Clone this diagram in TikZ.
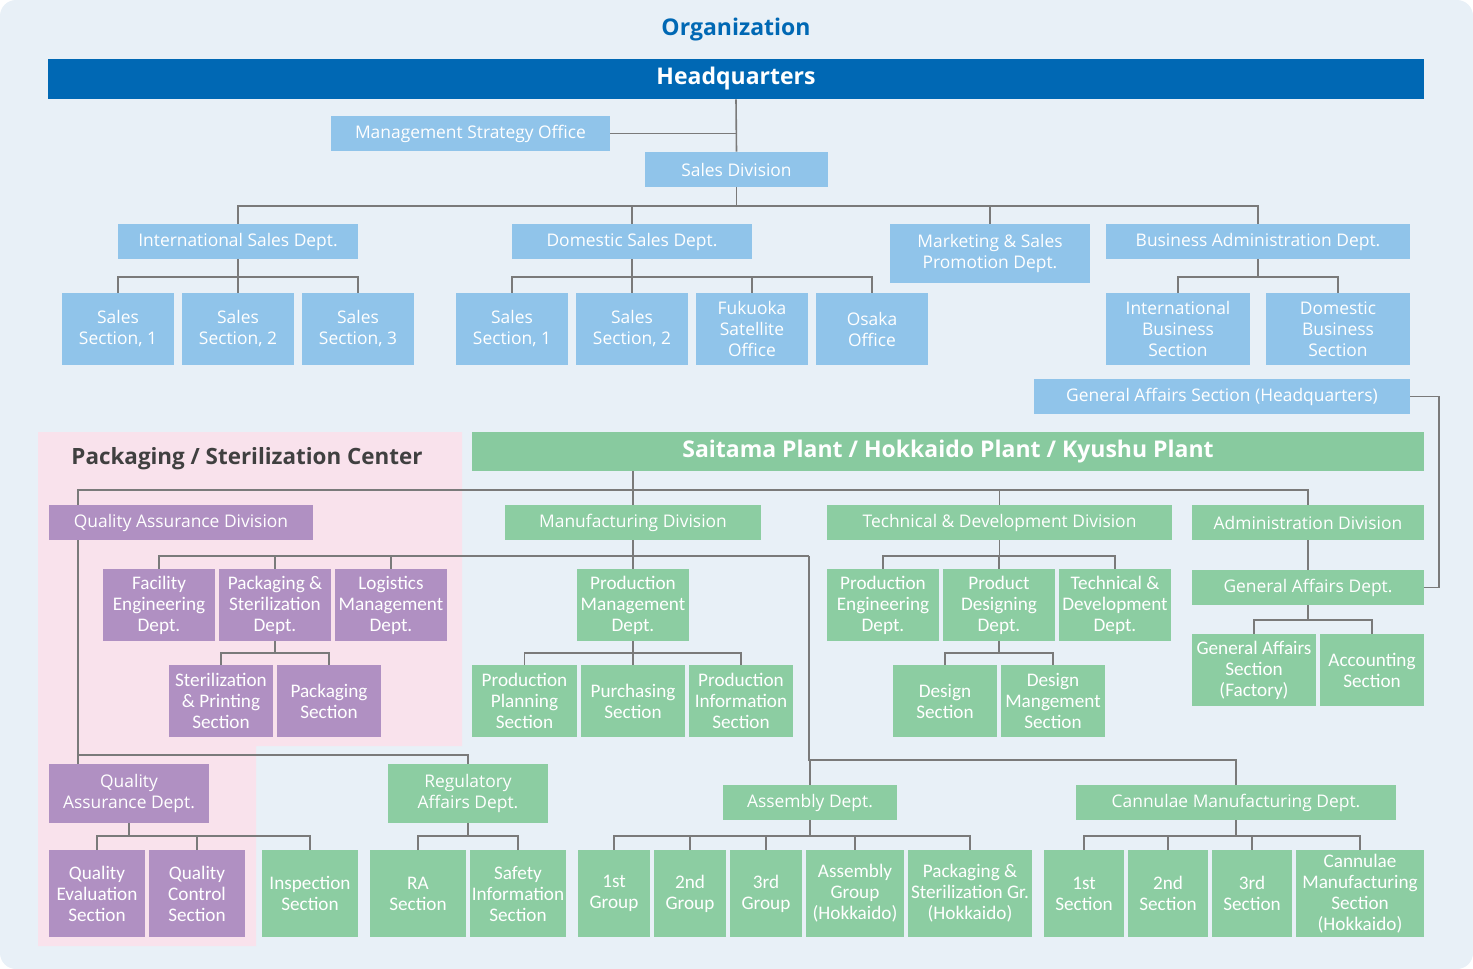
\documentclass[tikz,border=0pt]{standalone}
\usepackage{fontspec}
\setmainfont{Open Sans}
\newfontfamily\condf{Carlito}
\definecolor{bgc}{HTML}{E8F0F7}
\definecolor{hqb}{HTML}{0068B4}
\definecolor{lb}{HTML}{90C4EA}
\definecolor{gr}{HTML}{8CCDA2}
\definecolor{grh}{HTML}{88CA9F}
\definecolor{pu}{HTML}{B090C2}
\definecolor{pk}{HTML}{F9E2EC}
\definecolor{ln}{HTML}{7A7A7A}
\begin{document}
\begin{tikzpicture}[x=0.5pt,y=0.5pt,
  box/.style={inner sep=0pt,align=center,text=white,font=\fontsize{8.7}{10.5}\selectfont},
  cbox/.style={box,font=\condf\fontsize{9.6}{10.5}\selectfont},
  B/.style={box,fill=lb}, G/.style={box,fill=gr}, P/.style={box,fill=pu},
  CB/.style={cbox,fill=lb}, CG/.style={cbox,fill=gr}, CP/.style={cbox,fill=pu},
  every path/.style={},
  lnk/.style={draw=ln,line width=0.8pt}]
\newcommand\bx[7]{\node[#6,minimum width={(#4-#2)*0.5pt},minimum height={(#5-#3)*0.5pt}] (#1) at ({(#2+#4)/2},{-(#3+#5)/2}) {#7};}
\newcommand\tr[3]{\draw[lnk] (#1.south) -- (#1.south |- 0,-#3) -| (#2.north);}
\useasboundingbox (0,0) rectangle (1473,-969);
\fill[bgc,rounded corners=8pt] (0,0) rectangle (1473,-969);
\fill[pk] (38,-432) -- (462,-432) -- (462,-746) -- (256,-746) -- (256,-946) -- (38,-946) -- cycle;
\node[text=hqb,font=\bfseries\fontsize{11.5}{12}\selectfont] (title) at (736,-30) {Organization};
\node[text=black!75,font=\bfseries\fontsize{11.2}{12}\selectfont] (pkt) at (247,-459) {Packaging / Sterilization Center};
% headquarters
\bx{hq}{48}{59}{1424}{99}{box,fill=hqb,font=\bfseries\fontsize{11.5}{12}\selectfont}{Headquarters}
\bx{mso}{331}{116}{610}{151}{B}{Management Strategy Office}
\bx{sd}{645}{152}{828}{187}{B}{Sales Division}
\bx{isd}{118}{224}{358}{259}{B}{International Sales Dept.}
\bx{dsd}{512}{224}{752}{259}{B}{Domestic Sales Dept.}
\bx{msp}{890}{224}{1090}{283}{B}{Marketing \& Sales\\Promotion Dept.}
\bx{bad}{1106}{224}{1410}{259}{B}{Business Administration Dept.}
\bx{is1}{62}{293}{174}{365}{B}{Sales\\Section, 1}
\bx{is2}{182}{293}{294}{365}{B}{Sales\\Section, 2}
\bx{is3}{302}{293}{414}{365}{B}{Sales\\Section, 3}
\bx{ds1}{456}{293}{568}{365}{B}{Sales\\Section, 1}
\bx{ds2}{576}{293}{688}{365}{B}{Sales\\Section, 2}
\bx{fso}{696}{293}{808}{365}{B}{Fukuoka\\Satellite\\Office}
\bx{oso}{816}{293}{928}{365}{B}{Osaka\\Office}
\bx{ibs}{1106}{293}{1250}{365}{B}{International\\Business\\Section}
\bx{dbs}{1266}{293}{1410}{365}{B}{Domestic\\Business\\Section}
\bx{gahq}{1034}{379}{1410}{414}{B}{General Affairs Section (Headquarters)}
\draw[lnk] (hq.south) -- (sd.north);
\draw[lnk] (mso.east) -- (mso.east -| hq.south);
\tr{sd}{isd}{206}\tr{sd}{dsd}{206}\tr{sd}{msp}{206}\tr{sd}{bad}{206}
\tr{isd}{is1}{277}\tr{isd}{is2}{277}\tr{isd}{is3}{277}
\tr{dsd}{ds1}{277}\tr{dsd}{ds2}{277}\tr{dsd}{fso}{277}\tr{dsd}{oso}{277}
\tr{bad}{ibs}{277}\tr{bad}{dbs}{277}
% plants
\bx{sp}{472}{432}{1424}{471}{box,fill=grh,font=\bfseries\fontsize{11.5}{12}\selectfont}{Saitama Plant / Hokkaido Plant / Kyushu Plant}
\bx{qad}{49}{505}{313}{540}{P}{Quality Assurance Division}
\bx{mfg}{505}{505}{761}{540}{G}{Manufacturing Division}
\bx{tdd}{827}{505}{1172}{540}{G}{Technical \& Development Division}
\bx{adm}{1192}{505}{1424}{540}{G}{Administration Division}
\coordinate (qtop) at (78,-505);
\draw[lnk] (sp.south -| mfg.north) -- (mfg.north);
\draw[lnk] (qtop) -- (78,-490) -| (adm.north);
\draw[lnk] (tdd.north) -- (tdd.north |- 0,-490);
% packaging center depts
\bx{fed}{103}{569}{215}{641}{CP}{Facility\\Engineering\\Dept.}
\bx{psd}{219}{569}{331}{641}{CP}{Packaging \&\\Sterilization\\Dept.}
\bx{lmd}{335}{569}{447}{641}{CP}{Logistics\\Management\\Dept.}
\bx{sps}{169}{665}{273}{737}{CP}{Sterilization\\\& Printing\\Section}
\bx{pks}{277}{665}{381}{737}{CP}{Packaging\\Section}
\tr{psd}{sps}{653}\tr{psd}{pks}{653}
% manufacturing
\bx{pmd}{577}{569}{689}{641}{CG}{Production\\Management\\Dept.}
\bx{pps}{472}{665}{577}{737}{CG}{Production\\Planning\\Section}
\bx{pur}{581}{665}{685}{737}{CG}{Purchasing\\Section}
\bx{pis}{689}{665}{793}{737}{CG}{Production\\Information\\Section}
\draw[lnk] (mfg.south) -- (pmd.north);
\coordinate (mright) at (809,-556);
\draw[lnk] (fed.north) -- (fed.north |- 0,-556) -- (mright);
\draw[lnk] (psd.north) -- (psd.north |- 0,-556);
\draw[lnk] (lmd.north) -- (lmd.north |- 0,-556);
\tr{pmd}{pps}{653}\tr{pmd}{pur}{653}\tr{pmd}{pis}{653}
% technical
\bx{ped}{827}{569}{939}{641}{CG}{Production\\Engineering\\Dept.}
\bx{pdd}{943}{569}{1055}{641}{CG}{Product\\Designing\\Dept.}
\bx{tdp}{1059}{569}{1171}{641}{CG}{Technical \&\\Development\\Dept.}
\bx{dss}{893}{665}{997}{737}{CG}{Design\\Section}
\bx{dms}{1001}{665}{1105}{737}{CG}{Design\\Mangement\\Section}
\tr{tdd}{ped}{556}\tr{tdd}{pdd}{556}\tr{tdd}{tdp}{556}
\tr{pdd}{dss}{653}\tr{pdd}{dms}{653}
% admin
\bx{gad}{1192}{570}{1424}{605}{G}{General Affairs Dept.}
\bx{gaf}{1192}{634}{1316}{706}{CG}{General Affairs\\Section\\(Factory)}
\bx{acc}{1320}{634}{1424}{706}{CG}{Accounting\\Section}
\draw[lnk] (adm.south) -- (gad.north);
\tr{gad}{gaf}{620}\tr{gad}{acc}{620}
\draw[lnk] (gahq.east) -- (1439,-396.5) |- (gad.east);
% assembly / cannulae
\bx{asd}{723}{785}{897}{820}{G}{Assembly Dept.}
\bx{cmd}{1076}{785}{1396}{820}{G}{Cannulae Manufacturing Dept.}
\draw[lnk] (mright) -- (809,-760) -| (cmd.north);
\draw[lnk] (asd.north) -- (asd.north |- 0,-760);
\bx{g1}{578}{850}{650}{937}{CG}{1st\\Group}
\bx{g2}{654}{850}{726}{937}{CG}{2nd\\Group}
\bx{g3}{730}{850}{802}{937}{CG}{3rd\\Group}
\bx{agh}{806}{850}{904}{937}{CG}{Assembly\\Group\\(Hokkaido)}
\bx{psg}{908}{850}{1032}{937}{CG}{Packaging \&\\Sterilization Gr.\\(Hokkaido)}
\tr{asd}{g1}{836}\tr{asd}{g2}{836}\tr{asd}{g3}{836}\tr{asd}{agh}{836}\tr{asd}{psg}{836}
\bx{c1}{1044}{850}{1124}{937}{CG}{1st\\Section}
\bx{c2}{1128}{850}{1208}{937}{CG}{2nd\\Section}
\bx{c3}{1212}{850}{1292}{937}{CG}{3rd\\Section}
\bx{cms}{1296}{850}{1424}{937}{CG}{Cannulae\\Manufacturing\\Section\\(Hokkaido)}
\tr{cmd}{c1}{836}\tr{cmd}{c2}{836}\tr{cmd}{c3}{836}\tr{cmd}{cms}{836}
% quality assurance
\bx{qadp}{49}{764}{209}{823}{P}{Quality\\Assurance Dept.}
\bx{rad}{388}{764}{548}{823}{G}{Regulatory\\Affairs Dept.}
\draw[lnk] (qad.south -| 78,0) -- (78,-764);
\draw[lnk] (78,-755) -| (rad.north);
\bx{qes}{49}{850}{145}{937}{CP}{Quality\\Evaluation\\Section}
\bx{qcs}{149}{850}{245}{937}{CP}{Quality\\Control\\Section}
\bx{ins}{262}{850}{358}{937}{CG}{Inspection\\Section}
\tr{qadp}{qes}{836}\tr{qadp}{qcs}{836}\tr{qadp}{ins}{836}
\bx{ras}{370}{850}{466}{937}{CG}{RA\\Section}
\bx{sis}{470}{850}{566}{937}{CG}{Safety\\Information\\Section}
\tr{rad}{ras}{836}\tr{rad}{sis}{836}
\end{tikzpicture}
\end{document}
